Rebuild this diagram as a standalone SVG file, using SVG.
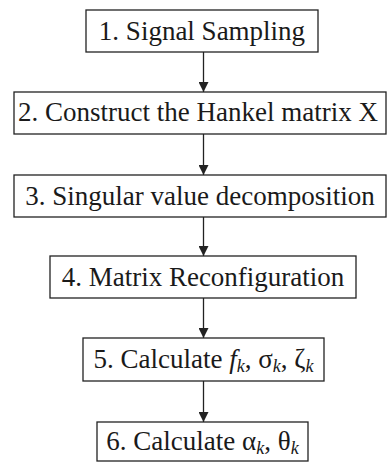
<svg xmlns="http://www.w3.org/2000/svg" width="387" height="463" viewBox="0 0 387 463">
<defs>
<style>
.box{fill:#fff;stroke:#222;stroke-width:1.3}
.t{font-family:"Liberation Serif","Times New Roman",serif;font-size:27px;fill:#1a1a1a;text-anchor:middle}
.s{font-size:18px;font-style:italic}
.i{font-style:italic}
.c{stroke:#222;stroke-width:1.3;fill:none}
</style>
<marker id="ah" viewBox="0 0 10 10" refX="10" refY="5" markerWidth="10" markerHeight="10" markerUnits="userSpaceOnUse" orient="auto">
<path d="M0,0 L10,5 L0,10 z" fill="#222"/>
</marker>
</defs>
<rect width="387" height="463" fill="#fff"/>
<g id="connectors">
<line class="c" x1="203.5" y1="52" x2="203.5" y2="92" marker-end="url(#ah)"/>
<line class="c" x1="203.5" y1="134" x2="203.5" y2="175" marker-end="url(#ah)"/>
<line class="c" x1="203.5" y1="217" x2="203.5" y2="256" marker-end="url(#ah)"/>
<line class="c" x1="203.5" y1="298" x2="203.5" y2="338" marker-end="url(#ah)"/>
<line class="c" x1="203.5" y1="381" x2="203.5" y2="422" marker-end="url(#ah)"/>
</g>
<g id="n1">
<rect class="box" x="86" y="10" width="232" height="42"/>
<text class="t" x="202" y="40">1. Signal Sampling</text>
</g>
<g id="n2">
<rect class="box" x="14" y="92" width="372" height="42"/>
<text class="t" x="198" y="121">2. Construct the Hankel matrix X</text>
</g>
<g id="n3">
<rect class="box" x="14" y="175" width="372" height="42"/>
<text class="t" x="200" y="205">3. Singular value decomposition</text>
</g>
<g id="n4">
<rect class="box" x="50" y="256" width="306" height="42"/>
<text class="t" x="203" y="286">4. Matrix Reconfiguration</text>
</g>
<g id="n5">
<rect class="box" x="83" y="338" width="241" height="43"/>
<text class="t" x="203.5" y="368">5. Calculate <tspan class="i">f</tspan><tspan class="s" dy="4">k</tspan><tspan dy="-4">, σ</tspan><tspan class="s" dy="4">k</tspan><tspan dy="-4">, ζ</tspan><tspan class="s" dy="4">k</tspan></text>
</g>
<g id="n6">
<rect class="box" x="97" y="422" width="211" height="39"/>
<text class="t" x="202.5" y="450">6. Calculate α<tspan class="s" dy="4">k</tspan><tspan dy="-4">, θ</tspan><tspan class="s" dy="4">k</tspan></text>
</g>
</svg>
